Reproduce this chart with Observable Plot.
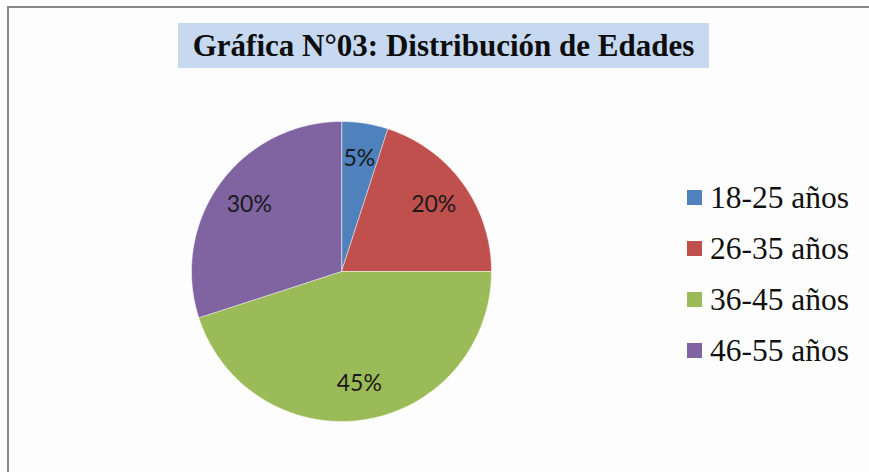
<!DOCTYPE html>
<html><head><meta charset="utf-8">
<script src="https://cdn.jsdelivr.net/npm/d3@7"></script>
<script src="https://cdn.jsdelivr.net/npm/@observablehq/plot@0.6"></script>
<style>
html,body{margin:0;background:#fdfdfd;overflow:hidden;}
#wrap{position:relative;width:869px;height:472px;overflow:hidden;background:#fdfdfd;}
#lineL{position:absolute;left:7px;top:6px;width:2px;height:466px;background:#8a8a8a;}
#lineT{position:absolute;left:7px;top:6px;width:862px;height:2px;background:#8a8a8a;}
#chart{position:absolute;left:0;top:0;}
#title{position:absolute;left:178px;top:23px;width:531px;height:45px;background:#c6d9f1;font:bold 31px "Liberation Serif";display:flex;align-items:center;justify-content:center;color:#0d0d0d;white-space:nowrap;}
#legend{position:absolute;left:687px;top:172px;}
.item{display:flex;align-items:center;height:51px;font:31.5px "Liberation Serif";color:#111;white-space:nowrap;}
.sw{width:15px;height:15px;margin-right:8px;}
</style></head>
<body>
<div id="wrap"><div id="lineL"></div><div id="lineT"></div><div id="chart"></div><div id="title"></div><div id="legend"></div></div>
<script>
const titleText = "Gráfica N°03: Distribución de Edades";
const categories = ["18-25 años", "26-35 años", "36-45 años", "46-55 años"];
const values = [5, 20, 45, 30];
const labels = ["5%", "20%", "45%", "30%"];
const colors = ["#4f81bd", "#c0504d", "#9bbb59", "#8064a2"];

const total = d3.sum(values);
const pts = [];
const labelData = [];
let start = 0;
categories.forEach((c, i) => {
  const a0 = start / total * 2 * Math.PI;
  const a1 = (start + values[i]) / total * 2 * Math.PI;
  pts.push({k: c, x: 0, y: 0});
  const n = Math.max(2, Math.ceil((a1 - a0) / (Math.PI / 180)));
  for (let j = 0; j <= n; j++) {
    const a = a0 + (a1 - a0) * j / n;
    pts.push({k: c, x: Math.sin(a), y: Math.cos(a)});
  }
  const am = (a0 + a1) / 2;
  labelData.push({k: c, label: labels[i], x: 0.76 * Math.sin(am), y: 0.76 * Math.cos(am)});
  start += values[i];
});

const plot = Plot.plot({
  width: 869, height: 472, margin: 0,
  style: {background: "transparent"},
  x: {domain: [-1, 1], range: [191, 491], axis: null},
  y: {domain: [-1, 1], range: [421, 121], axis: null},
  color: {domain: categories, range: colors},
  marks: [
    Plot.line(pts, {x: "x", y: "y", z: "k", fill: "k", stroke: "#ffffff", strokeOpacity: 0.5, strokeWidth: 1, curve: "linear-closed"}),
    Plot.text(labelData, {x: "x", y: "y", text: "label", fontSize: 23, fontFamily: "Lato", fill: "#1a1a1a"})
  ]
});
document.getElementById("chart").appendChild(plot);
document.getElementById("title").textContent = titleText;
const leg = document.getElementById("legend");
categories.forEach((c, i) => {
  const d = document.createElement("div");
  d.className = "item";
  const s = document.createElement("div");
  s.className = "sw";
  s.style.background = colors[i];
  d.appendChild(s);
  d.appendChild(document.createTextNode(c));
  leg.appendChild(d);
});
</script>
</body></html>
